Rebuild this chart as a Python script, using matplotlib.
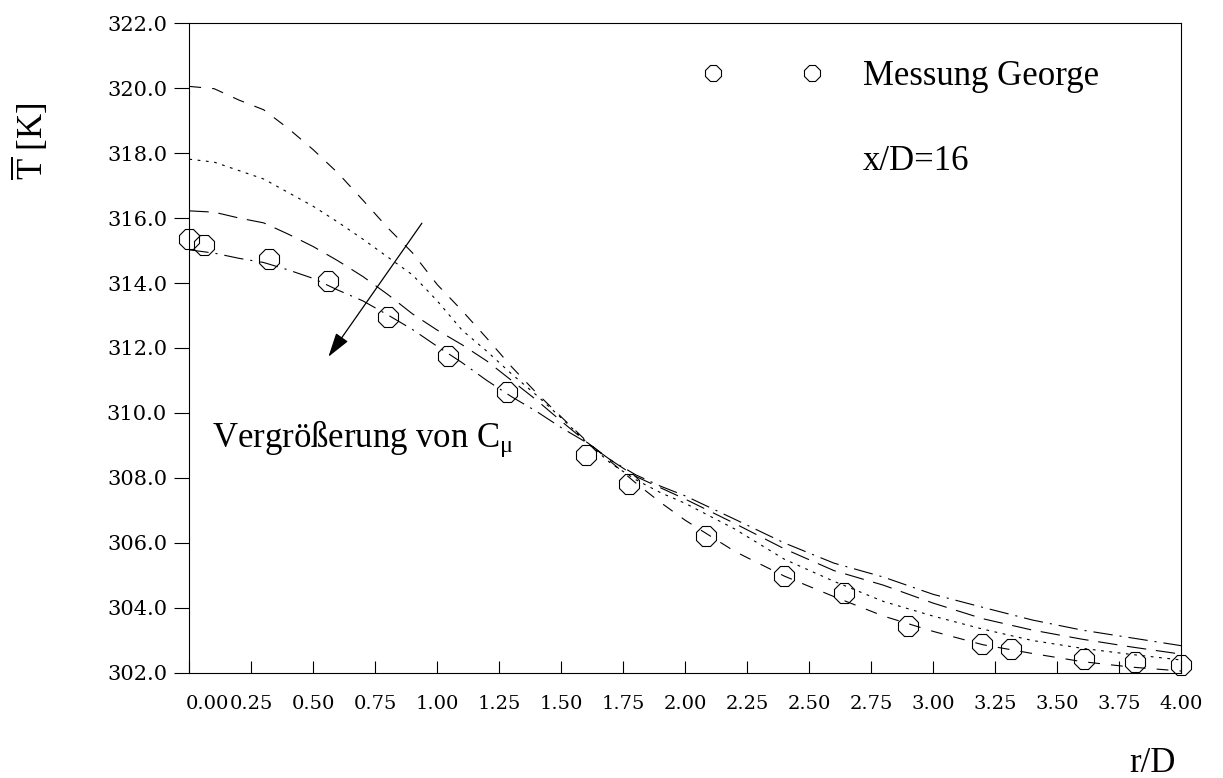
"""Mean temperature profile T(r/D) at x/D=16: four C_mu variants vs. George's data."""

import numpy as np
import matplotlib
matplotlib.use("Agg")
import matplotlib.pyplot as plt
import matplotlib.transforms as mtransforms
from matplotlib.lines import Line2D

plt.rcParams.update({
    "font.family": "DejaVu Serif",
    "mathtext.fontset": "custom",
    "mathtext.rm": "Liberation Serif",
    "mathtext.it": "Liberation Serif:italic",
    "lines.scale_dashes": False,
})

# ---- data ----
r_sim = [0.0, 0.1, 0.2, 0.3, 0.4, 0.5, 0.6, 0.7, 0.8, 0.9, 1.0, 1.1, 1.2, 1.3,
         1.4, 1.5, 1.6, 1.7, 1.8, 1.9, 2.0, 2.2, 2.4, 2.6, 2.8, 3.0, 3.2, 3.4,
         3.6, 3.8, 4.0]

# smallest C_mu (short dashes)
T_a = [320.05, 319.98, 319.63, 319.33, 318.75, 318.10, 317.38, 316.55, 315.70,
       314.93, 313.95, 313.15, 312.30, 311.42, 310.62, 309.88, 309.15, 308.50,
       307.85, 307.25, 306.70, 305.74, 304.98, 304.35, 303.75, 303.28, 302.87,
       302.60, 302.35, 302.18, 302.06]
# dotted
T_b = [317.81, 317.72, 317.46, 317.20, 316.78, 316.36, 315.87, 315.35, 314.80,
       314.25, 313.45, 312.55, 311.90, 311.20, 310.55, 309.85, 309.12, 308.45,
       307.95, 307.55, 307.22, 306.43, 305.50, 304.82, 304.20, 303.75, 303.35,
       303.00, 302.76, 302.57, 302.40]
# long dashes
T_c = [316.22, 316.18, 316.00, 315.85, 315.50, 315.12, 314.68, 314.20, 313.65,
       313.05, 312.55, 312.10, 311.60, 311.00, 310.40, 309.75, 309.12, 308.55,
       308.05, 307.70, 307.35, 306.60, 305.82, 305.15, 304.70, 304.15, 303.67,
       303.32, 303.04, 302.80, 302.58]
# largest C_mu (dash-dot)
T_d = [315.02, 314.92, 314.76, 314.63, 314.40, 314.14, 313.78, 313.45, 313.02,
       312.57, 312.05, 311.55, 311.00, 310.50, 310.05, 309.55, 309.10, 308.55,
       308.10, 307.75, 307.45, 306.73, 306.00, 305.38, 304.95, 304.42, 304.02,
       303.63, 303.32, 303.08, 302.84]

# measurement George
r_meas = [0.0, 0.06, 0.32, 0.56, 0.80, 1.045, 1.283, 1.60, 1.774, 2.084, 2.40,
          2.64, 2.90, 3.198, 3.316, 3.608, 3.814, 4.0]
T_meas = [315.34, 315.17, 314.75, 314.06, 312.96, 311.75, 310.64, 308.70, 307.81,
          306.22, 304.98, 304.45, 303.45, 302.88, 302.73, 302.42, 302.33, 302.25]

XTICKS = np.arange(0.0, 4.01, 0.25)
YTICKS = np.arange(302.0, 322.01, 2.0)

LINESTYLES = [
    (0, (8.5, 8.0)),             # short dash
    (0, (2.0, 4.0)),             # dotted
    (0, (14.0, 7.0)),            # long dash
    (0, (14.0, 5.0, 1.5, 5.0)),  # dash-dot
]
TEXT_FONT = "Liberation Serif"
TEXT_SIZE = 25

fig = plt.figure(figsize=(12.23, 7.78), dpi=100)
ax = fig.add_axes([0.1548, 0.135, 0.8109, 0.8354])

for T, ls in zip([T_a, T_b, T_c, T_d], LINESTYLES):
    ax.plot(r_sim, T, color="black", lw=0.8, linestyle=ls)

ax.plot(r_meas, T_meas, linestyle="none", marker="8", ms=15, mfc="none",
        mec="black", mew=0.8, clip_on=False)

ax.set_xlim(0.0, 4.0)
ax.set_ylim(302.0, 322.0)
ax.set_xticks(XTICKS)
ax.set_xticklabels([f"{v:.2f}" for v in XTICKS])
ax.set_yticks(YTICKS)
ax.set_yticklabels([f"{v:.1f}" for v in YTICKS])

ax.tick_params(axis="x", direction="in", length=9, width=0.8, pad=16, labelsize=14)
ax.tick_params(axis="y", direction="out", length=11, width=0.8, pad=5, labelsize=15)
for sp in ax.spines.values():
    sp.set_linewidth(0.8)

# first x label sits just right of the axis, butting against "0.25"
lab0 = ax.get_xticklabels()[0]
lab0.set_transform(lab0.get_transform() +
                   mtransforms.ScaledTranslation(18 / 100, 0, fig.dpi_scale_trans))

# legend: two small octagons + label
h = Line2D([], [], linestyle="none", marker="8", ms=12, mfc="none", mec="black", mew=0.8)
ax.legend([h], ["Messung George"], loc="center left", bbox_to_anchor=(0.518, 0.918),
          borderaxespad=0, borderpad=0, frameon=False, numpoints=2,
          handlelength=3.45, handletextpad=1.15,
          prop={"family": TEXT_FONT, "size": TEXT_SIZE})

ax.text(0.679, 0.774, "x/D=16", transform=ax.transAxes, family=TEXT_FONT,
        size=TEXT_SIZE, ha="left", va="baseline")
ax.text(0.09, 308.96, "Vergrößerung von C$_{\\mathrm{\\mu}}$", family=TEXT_FONT,
        size=TEXT_SIZE, ha="left", va="baseline")

ax.annotate("", xy=(0.561, 311.73), xytext=(0.938, 315.84),
            arrowprops=dict(arrowstyle="-|>,head_length=1.5,head_width=0.45",
                            color="black", lw=0.9, shrinkA=0, shrinkB=0))

fig.text(0.942, 0.019, "r/D", family=TEXT_FONT, size=TEXT_SIZE, ha="center", va="center")
fig.text(0.0245, 0.8188, r"$\overline{\mathrm{T}}$ [K]", family=TEXT_FONT, size=TEXT_SIZE,
         rotation=90, ha="center", va="center")

fig.savefig("out.png", dpi=100)
